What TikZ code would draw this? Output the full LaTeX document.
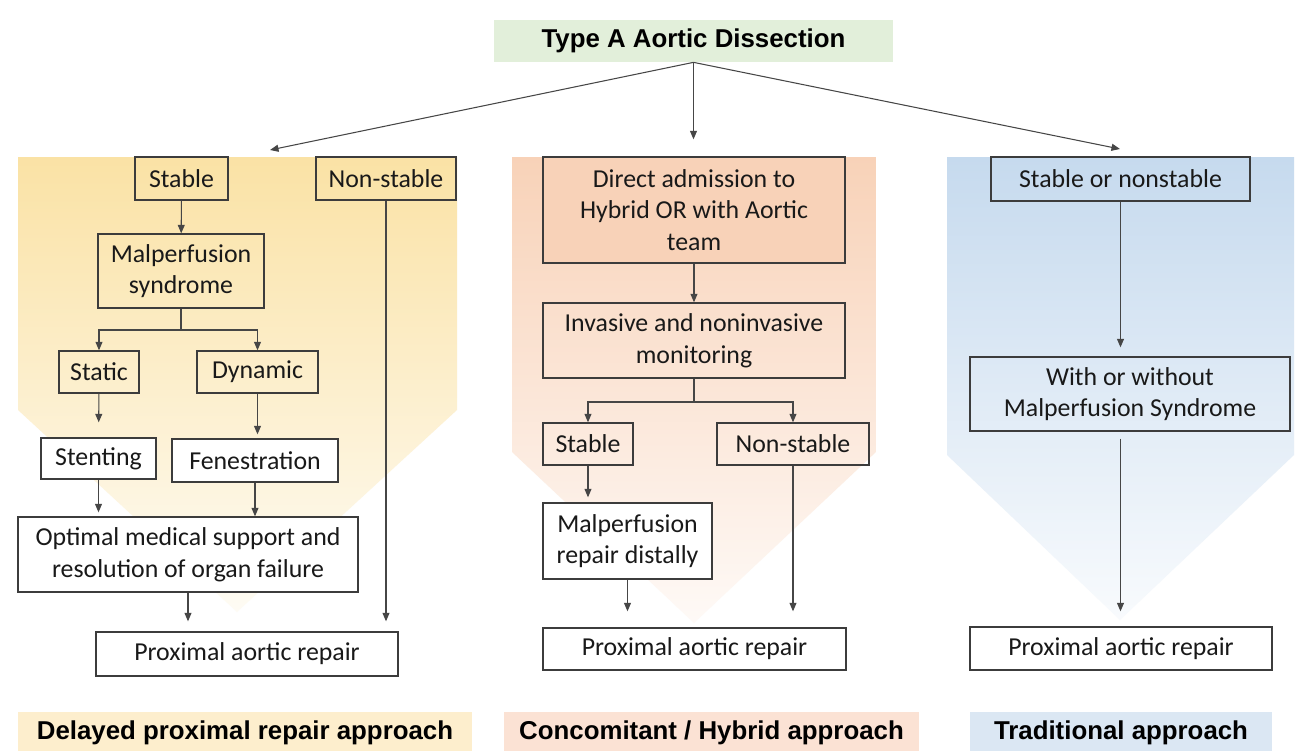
\documentclass[tikz,border=0pt]{standalone}
\usepackage{fontspec}
\setmainfont{Carlito}
\newfontfamily\headfont{Liberation Sans}
\usetikzlibrary{arrows.meta,positioning}

\definecolor{yelTop}{RGB}{250,226,165}
\definecolor{orTop}{RGB}{248,210,184}
\definecolor{bluTop}{RGB}{198,218,238}
\definecolor{yelLab}{RGB}{253,238,205}
\definecolor{orLab}{RGB}{251,226,212}
\definecolor{bluLab}{RGB}{219,231,243}
\definecolor{titleGreen}{RGB}{226,239,218}
\definecolor{boxGray}{RGB}{60,60,60}
\definecolor{lineGray}{RGB}{70,70,70}

\begin{document}
\begin{tikzpicture}[
x=0.02cm, y=-0.02cm,
font=\fontsize{14.7}{18}\selectfont,
box/.style={draw=boxGray, line width=0.8pt, align=center, inner sep=0pt, text=black!90},
wbox/.style={box, fill=white},
head/.style={font=\headfont\bfseries\fontsize{14.7}{18}\selectfont, inner sep=0pt, text=black},
conn/.style={draw=lineGray, line width=0.6pt},
arrow/.style={conn, -{Triangle[length=1.7mm, width=1.4mm]}}
]
\useasboundingbox (0,0) rectangle (1296,751);
\fill[white] (0,0) rectangle (1296,751);

% column backgrounds
\shade[top color=yelTop, bottom color=yelTop!12] (18,157) -- (457,157) -- (457,410) -- (237,612) -- (18,410) -- cycle;
\shade[top color=orTop, bottom color=orTop!12] (512,157) -- (876,157) -- (876,452) -- (694,623) -- (512,452) -- cycle;
\shade[top color=bluTop, bottom color=bluTop!12] (947,157) -- (1294,157) -- (1294,455) -- (1120,620) -- (947,455) -- cycle;

% title
\node[head, fill=titleGreen, minimum width=7.98cm, minimum height=0.84cm] (title) at (693.5,41) {Type A Aortic Dissection};

% delayed repair column
\node[box, minimum width=1.86cm, minimum height=0.86cm] (ls) at (181.5,178.5) {Stable};
\node[box, minimum width=2.80cm, minimum height=0.86cm] (lns) at (386,178.5) {Non-stable};
\node[box, minimum width=3.32cm, minimum height=1.48cm] (lmal) at (181,271) {Malperfusion\\syndrome};
\node[box, minimum width=1.60cm, minimum height=0.84cm] (lsta) at (99,372) {Static};
\node[box, minimum width=2.42cm, minimum height=0.84cm] (ldyn) at (257.5,372) {Dynamic};
\node[wbox, minimum width=2.30cm, minimum height=0.82cm] (lstent) at (98.5,458.5) {Stenting};
\node[wbox, minimum width=3.32cm, minimum height=0.86cm] (lfen) at (255,460.5) {Fenestration};
\node[wbox, minimum width=6.80cm, minimum height=1.50cm] (lopt) at (188,554.5) {Optimal medical support and\\resolution of organ failure};
\node[wbox, minimum width=6.04cm, minimum height=0.88cm] (lprox) at (247,654) {Proximal aortic repair};

% hybrid column
\node[box, fill=orTop, minimum width=6.04cm, minimum height=2.12cm] (mdir) at (694,210) {Direct admission to\\Hybrid OR with Aortic\\team};
\node[box, minimum width=6.04cm, minimum height=1.50cm] (minv) at (694,340.5) {Invasive and noninvasive\\monitoring};
\node[box, minimum width=1.80cm, minimum height=0.84cm] (ms) at (588,444) {Stable};
\node[box, minimum width=3.04cm, minimum height=0.84cm] (mns) at (793,444) {Non-stable};
\node[wbox, minimum width=3.38cm, minimum height=1.52cm] (mmal) at (627.5,541) {Malperfusion\\repair distally};
\node[wbox, minimum width=6.06cm, minimum height=0.84cm] (mprox) at (694.5,649) {Proximal aortic repair};

% traditional column
\node[box, minimum width=5.18cm, minimum height=0.88cm] (rs) at (1120.5,179) {Stable or nonstable};
\node[box, minimum width=6.40cm, minimum height=1.48cm] (rwith) at (1130,394) {With or without\\Malperfusion Syndrome};
\node[wbox, minimum width=6.04cm, minimum height=0.86cm] (rprox) at (1121,648.5) {Proximal aortic repair};

% approach labels
\node[head, fill=yelLab, minimum width=9.08cm, minimum height=0.86cm] (llab) at (245,733) {Delayed proximal repair approach};
\node[head, fill=orLab, minimum width=8.30cm, minimum height=0.86cm] (mlab) at (711.5,733) {Concomitant / Hybrid approach};
\node[head, fill=bluLab, minimum width=6.04cm, minimum height=0.86cm] (rlab) at (1121,733) {Traditional approach};

% connectors
\coordinate (ltop) at (270,150);
\coordinate (rtop) at (1120,149);
\draw[arrow] (title.south) -- (ltop);
\draw[arrow, shorten >=0.34cm] (title.south) -- (title.south |- mdir.north);
\draw[arrow] (title.south) -- (rtop);

\draw[arrow] (ls) -- (lmal);
\coordinate (lfork) at (181,330);
\draw[conn] (lmal) -- (lfork);
\draw[arrow] (lfork) -| (lsta);
\draw[arrow] (lfork) -| (ldyn);
\draw[arrow, shorten >=0.3cm] (lsta) -- (lstent);
\draw[arrow, shorten >=0.08cm] (ldyn.south) -- (ldyn.south |- lfen.north);
\draw[arrow, shorten >=0.08cm] (lstent.south) -- (lstent.south |- lopt.north);
\draw[arrow] (lfen.south) -- (lfen.south |- lopt.north);
\draw[arrow, shorten >=0.2cm] (lopt.south) -- (lopt.south |- lprox.north);
\draw[arrow, shorten >=0.2cm] (lns.south) -- (lns.south |- lprox.north);

\draw[arrow] (mdir) -- (minv);
\coordinate (mfork) at (694,402);
\draw[conn] (minv) -- (mfork);
\draw[arrow] (mfork) -| (ms);
\draw[arrow] (mfork) -| (mns);
\draw[arrow, shorten >=0.1cm] (ms.south) -- (ms.south |- mmal.north);
\draw[arrow, shorten >=0.32cm] (mmal.south) -- (mmal.south |- mprox.north);
\draw[arrow, shorten >=0.32cm] (mns.south) -- (mns.south |- mprox.north);

\draw[arrow, shorten >=0.18cm] (rs.south) -- (rs.south |- rwith.north);
\draw[arrow, shorten <=0.14cm, shorten >=0.3cm] (rwith.south -| rs.south) -- (rs.south |- rprox.north);
\end{tikzpicture}
\end{document}
